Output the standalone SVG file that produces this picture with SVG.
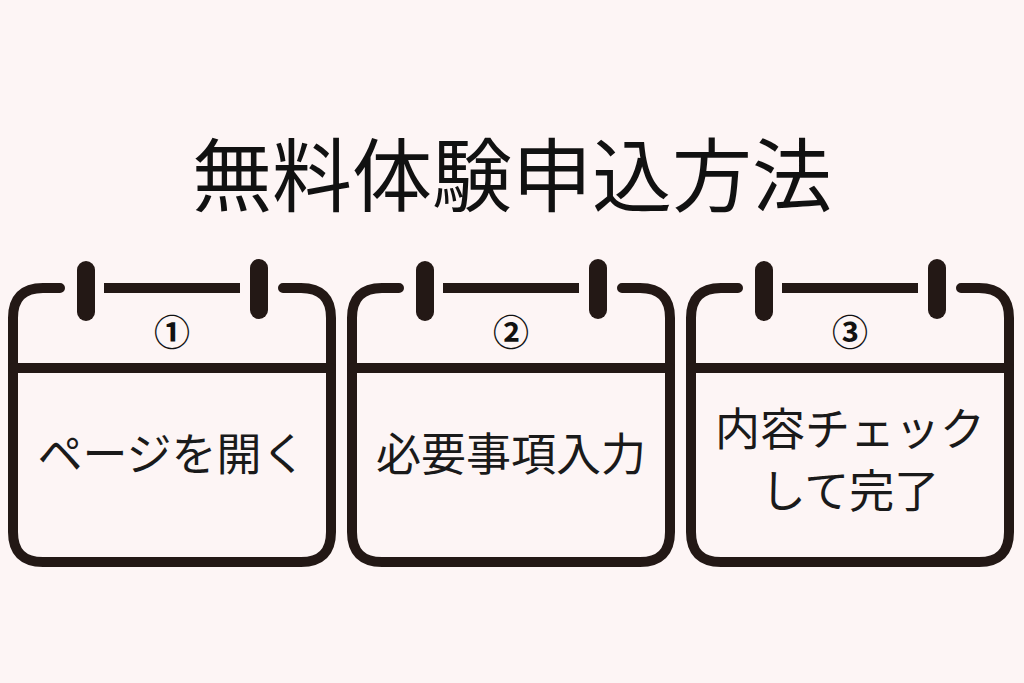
<svg xmlns="http://www.w3.org/2000/svg" width="1024" height="683" viewBox="0 0 1024 683">
<style>
.f{fill:none;stroke:#231815;stroke-width:10;stroke-linecap:round}
.r{fill:none;stroke:#231815;stroke-width:18;stroke-linecap:round}
.n{font-family:"Noto Sans CJK JP",sans-serif;font-weight:bold;font-size:36px;fill:#111;text-anchor:middle}
.t{font-family:"Noto Sans CJK JP",sans-serif;font-size:45px;fill:#1a1a1a;text-anchor:middle}
</style>
<defs>
<g id="cal">
<path class="f" d="M60,288 H43 Q13,288 13,318 V532 Q13,562 43,562 H301 Q331,562 331,532 V318 Q331,288 301,288 H283"/>
<line class="f" x1="104" y1="288" x2="240" y2="288" style="stroke-linecap:butt"/>
<line class="f" x1="13" y1="368" x2="331" y2="368"/>
<line class="r" x1="86" y1="270" x2="86" y2="312"/>
<line class="r" x1="259" y1="268" x2="259" y2="310"/>
</g>
</defs>
<rect width="1024" height="683" fill="#fdf5f5"/>
<text x="512" y="205" style="font-family:'Noto Sans CJK JP',sans-serif;font-size:80px;fill:#111;text-anchor:middle">無料体験申込方法</text>
<g id="node1"><use href="#cal"/><text class="n" x="172" y="346">①</text><text class="t" x="172" y="471">ページを開く</text></g>
<g id="node2"><use href="#cal" x="339"/><text class="n" x="511" y="346">②</text><text class="t" x="511" y="471">必要事項入力</text></g>
<g id="node3"><use href="#cal" x="678"/><text class="n" x="850" y="346">③</text><text class="t" x="850" y="446">内容チェック</text><text class="t" x="850" y="508">して完了</text></g>
<g id="connectors"/>
</svg>
